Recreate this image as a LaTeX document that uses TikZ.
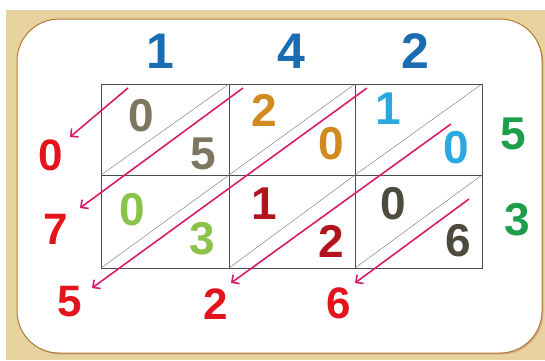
\documentclass[tikz,border=0pt]{standalone}
\usepackage{fontspec}
\setmainfont{Liberation Sans}
\usetikzlibrary{arrows.meta}
\begin{document}
\begin{tikzpicture}[
    x=1pt, y=-1pt,
    cell/.style={draw=black!70, line width=0.7pt},
    diag/.style={draw=black!55, line width=0.4pt},
    topnum/.style={font=\fontsize{50}{50}\selectfont\bfseries, inner sep=0pt, text=bluet},
    cellnum/.style={font=\fontsize{46}{46}\selectfont\bfseries, inner sep=0pt},
    sidenum/.style={font=\fontsize{44}{44}\selectfont\bfseries, inner sep=0pt, text=redr},
    carry/.style={draw=pinkm, line width=1.6pt, -{Straight Barb[length=5.5pt,width=11pt]}},
  ]
  \definecolor{parch}{HTML}{E8D3A0}
  \definecolor{edgeb}{HTML}{B07A35}
  \definecolor{bluet}{HTML}{1A6DB3}
  \definecolor{redr}{HTML}{E3141B}
  \definecolor{greenr}{HTML}{1E9E4A}
  \definecolor{grayb}{HTML}{7D7660}
  \definecolor{orangeb}{HTML}{D08A1E}
  \definecolor{skyb}{HTML}{2AA8E0}
  \definecolor{limeb}{HTML}{8BC34A}
  \definecolor{darkr}{HTML}{B0151C}
  \definecolor{darkg}{HTML}{4D4A3E}
  \definecolor{pinkm}{HTML}{D81B6A}
  \path[use as bounding box] (0,0) rectangle (545,360);
  % background and panel
  \fill[parch] (6,10) rectangle (545,360);
  \fill[edgeb!60, rounded corners=42pt] (18.5,20.5) rectangle (543.5,354.5);
  \filldraw[fill=white, draw=edgeb, line width=1pt, rounded corners=42pt] (17,19) rectangle (542,353);
  % lattice
  \foreach \xa/\xb in {101/229,229/355,355/482} {
    \foreach \ya/\yb in {84/175,175/268} {
      \draw[cell] (\xa,\ya) rectangle (\xb,\yb);
      \draw[diag] (\xa,\yb) -- (\xb,\ya);
    }
  }
  % carry arrows
  \coordinate (a1s) at (128,88);  \coordinate (a1e) at (70,137);
  \coordinate (a2s) at (243,88);  \coordinate (a2e) at (80,208);
  \coordinate (a3s) at (367,88);  \coordinate (a3e) at (92,288);
  \coordinate (a4s) at (451,124); \coordinate (a4e) at (231,283);
  \coordinate (a5s) at (469,199); \coordinate (a5e) at (355,283);
  \foreach \i in {1,...,5} {\draw[carry] (a\i s) -- (a\i e);}
  % factors
  \node[topnum] (t1) at (160,51) {1};
  \node[topnum] (t2) at (291,51) {4};
  \node[topnum] (t3) at (415,51) {2};
  \node[cellnum, text=greenr] (r1) at (513,134) {5};
  \node[cellnum, text=greenr] (r2) at (517,220) {3};
  % partial products
  \node[cellnum, text=grayb] (p11a) at (141,116) {0};
  \node[cellnum, text=grayb] (p11b) at (203,154) {5};
  \node[cellnum, text=orangeb] (p12a) at (264,110) {2};
  \node[cellnum, text=orangeb] (p12b) at (331,144) {0};
  \node[cellnum, text=skyb] (p13a) at (388,109) {1};
  \node[cellnum, text=skyb] (p13b) at (456,148) {0};
  \node[cellnum, text=limeb] (p21a) at (132,210) {0};
  \node[cellnum, text=limeb] (p21b) at (202,239) {3};
  \node[cellnum, text=darkr] (p22a) at (264,204) {1};
  \node[cellnum, text=darkr] (p22b) at (331,241) {2};
  \node[cellnum, text=darkg] (p23a) at (393,204) {0};
  \node[cellnum, text=darkg] (p23b) at (458,241) {6};
  % result digits
  \node[sidenum] (s1) at (51,155) {0};
  \node[sidenum] (s2) at (56,229) {7};
  \node[sidenum] (s3) at (70,302) {5};
  \node[sidenum] (s4) at (216,304) {2};
  \node[sidenum] (s5) at (339,303) {6};
\end{tikzpicture}
\end{document}
